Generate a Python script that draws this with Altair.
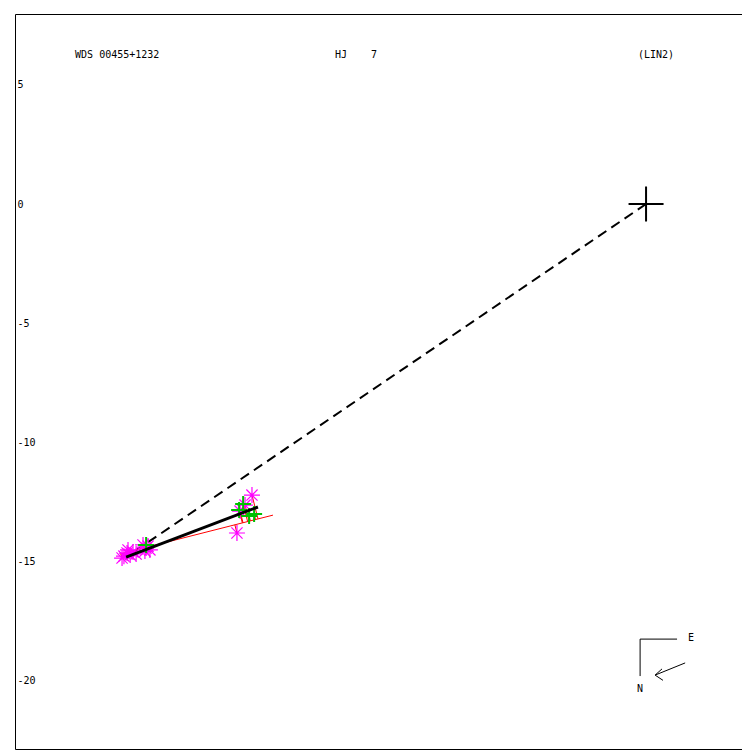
import altair as alt
import pandas as pd

# ---- data (units: arcsec, primary at origin) ----
obs_x = [-21.90, -21.77, -21.64, -21.52, -21.39, -21.73, -20.97, -20.89, -20.81, -21.02,
         -21.98, -21.10, -17.16, -16.53, -17.03, -16.82]
obs_y = [-14.77, -14.64, -14.72, -14.60, -14.68, -14.51, -14.43, -14.35, -14.51, -14.56,
         -14.85, -14.30, -13.80, -12.21, -12.88, -12.63]
spk_x = [-16.90, -16.65, -16.44, -17.07, -20.97]
spk_y = [-12.58, -13.09, -13.00, -12.84, -14.30]
fit_x = [-22.06, -15.65]
fit_y = [-14.68, -13.05]
mot_x = [-21.81, -16.28]
mot_y = [-14.81, -12.71]
prim_x = [0.0]
prim_y = [0.0]
y_ticks = [5, 0, -5, -10, -15, -20]
x_dom = [-26.47, 4.36]
y_dom = [-22.86, 7.97]

NB = "\u00a0"
title_x = [-23.95, -13.05, -0.34]
title_y = [6.25, 6.25, 6.25]
title_txt = ["WDS" + NB + "00455+1232", "HJ" + NB * 4 + "7", "(LIN2)"]

comp_x = [-0.25, -0.25, 1.64, 0.38, 0.38]
comp_y = [-18.25, -18.25, -19.25, -19.76, -19.76]
comp_x2 = [1.30, -0.25, 0.38, 0.67, 0.71]
comp_y2 = [-18.25, -19.80, -19.76, -19.50, -19.98]
comp_lx = [1.76, -0.38]
comp_ly = [-18.20, -20.34]
comp_lt = ["E", "N"]

# ---- frames ----
# O-C lines: observation to its foot on the fitted line
dx, dy = fit_x[1] - fit_x[0], fit_y[1] - fit_y[0]
L2 = dx * dx + dy * dy
oc_rows = []
for px, py in list(zip(obs_x, obs_y)) + list(zip(spk_x, spk_y)):
    t = ((px - fit_x[0]) * dx + (py - fit_y[0]) * dy) / L2
    oc_rows.append({"x": px, "y": py, "x2": fit_x[0] + t * dx, "y2": fit_y[0] + t * dy})
oc_df = pd.DataFrame(oc_rows)

obs_df = pd.DataFrame({"x": obs_x, "y": obs_y})
spk_df = pd.DataFrame({"x": spk_x, "y": spk_y})
fit_df = pd.DataFrame({"x": [fit_x[0]], "y": [fit_y[0]], "x2": [fit_x[1]], "y2": [fit_y[1]]})
mot_df = pd.DataFrame({"x": [mot_x[0]], "y": [mot_y[0]], "x2": [mot_x[1]], "y2": [mot_y[1]]})
dash_df = pd.DataFrame({"x": prim_x, "y": prim_y, "x2": [mot_x[0]], "y2": [mot_y[0]]})
prim_df = pd.DataFrame({"x": prim_x, "y": prim_y})
title_df = pd.DataFrame({"x": title_x, "y": title_y, "t": title_txt})
comp_df = pd.DataFrame({"x": comp_x, "y": comp_y, "x2": comp_x2, "y2": comp_y2})
compl_df = pd.DataFrame({"x": comp_lx, "y": comp_ly, "t": comp_lt})

MONO = "DejaVu Sans Mono"
xs = alt.Scale(domain=x_dom, nice=False, zero=False)
ys = alt.Scale(domain=y_dom, nice=False, zero=False)
X = alt.X("x:Q", scale=xs, axis=None)
Y = alt.Y("y:Q", scale=ys, axis=alt.Axis(values=y_ticks, orient="left", grid=False, domain=False,
                                          ticks=False, tickSize=0, labelAlign="left",
                                          labelBaseline="middle",
                                          labelPadding=-2, labelFont=MONO,
                                          labelFontSize=10, labelColor="black",
                                          labelExpr="toString(datum.value)", title=None))

dashed = alt.Chart(dash_df).mark_rule(color="black", strokeWidth=2, strokeDash=[10, 6]).encode(
    x=X, y=Y, x2="x2:Q", y2="y2:Q")
fit = alt.Chart(fit_df).mark_rule(color="red", strokeWidth=1).encode(x=X, y=Y, x2="x2:Q", y2="y2:Q")
oc = alt.Chart(oc_df).mark_rule(color="red", strokeWidth=1).encode(x=X, y=Y, x2="x2:Q", y2="y2:Q")
star = "M-1,0L1,0M0,-1L0,1M-0.7,-0.7L0.7,0.7M-0.7,0.7L0.7,-0.7"
obs = alt.Chart(obs_df).mark_point(shape=star, size=256, color="#ff00ff", strokeWidth=1.2,
                                   filled=False, opacity=1).encode(x=X, y=Y)
plus = "M-1,0L1,0M0,-1L0,1"
spk = alt.Chart(spk_df).mark_point(shape=plus, size=256, color="#00c000", strokeWidth=2,
                                   filled=False, opacity=1).encode(x=X, y=Y)
mot = alt.Chart(mot_df).mark_rule(color="black", strokeWidth=3).encode(x=X, y=Y, x2="x2:Q", y2="y2:Q")
prim = alt.Chart(prim_df).mark_point(shape=plus, size=1225, color="black", strokeWidth=2, filled=False,
                                     opacity=1).encode(x=X, y=Y)
titles = alt.Chart(title_df).mark_text(font=MONO, fontSize=10, align="left", baseline="middle",
                                       color="black").encode(x=X, y=Y, text="t:N")
comp = alt.Chart(comp_df).mark_rule(color="black", strokeWidth=1).encode(x=X, y=Y, x2="x2:Q", y2="y2:Q")
compl = alt.Chart(compl_df).mark_text(font=MONO, fontSize=10, align="left", baseline="middle",
                                      color="black").encode(x=X, y=Y, text="t:N")

chart = alt.layer(dashed, fit, oc, obs, spk, mot, prim, titles, comp, compl).properties(
    width=735, height=735,
    padding={"left": 7, "top": 6, "right": -8, "bottom": 3},
    autosize=alt.AutoSizeParams(type="none"),
    background="white",
).configure_view(stroke="black", strokeWidth=1)

chart.save("out.html", embed_options={"renderer": "svg", "actions": False})
